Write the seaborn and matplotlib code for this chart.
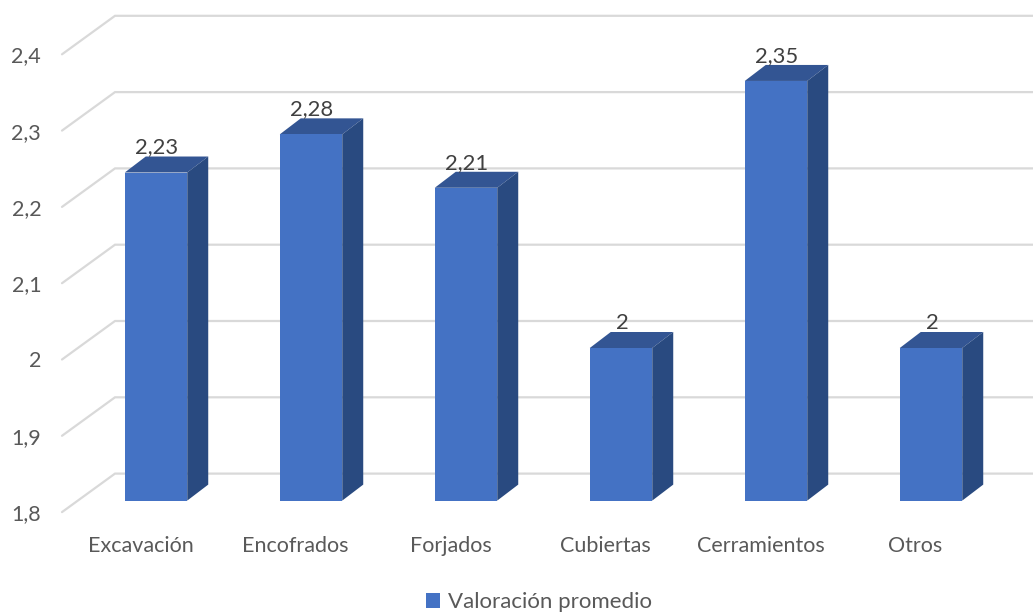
import numpy as np
import pandas as pd
import matplotlib
matplotlib.use("Agg")
import matplotlib.pyplot as plt
from matplotlib.patches import Polygon, Patch
from matplotlib.transforms import ScaledTranslation
import seaborn as sns

categories = ["Excavación", "Encofrados", "Forjados", "Cubiertas", "Cerramientos", "Otros"]
values = [2.23, 2.28, 2.21, 2.0, 2.35, 2.0]
value_labels = ["2,23", "2,28", "2,21", "2", "2,35", "2"]
y_ticks = [1.8, 1.9, 2.0, 2.1, 2.2, 2.3, 2.4]
y_tick_labels = ["1,8", "1,9", "2", "2,1", "2,2", "2,3", "2,4"]
series_name = "Valoración promedio"

W, H = 1033, 613
sns.set_theme(style="white")
plt.rcParams["font.family"] = ["Lato", "DejaVu Sans"]
TXT = "#595959"
FS = 15.5

fig = plt.figure(figsize=(W / 100, H / 100), dpi=100)
L, R, T, B = 78.5, 1008.5, 42.8, 500.6
ax = fig.add_axes([L / W, 1 - B / H, (R - L) / W, (B - T) / H])
df = pd.DataFrame({"cat": categories, "val": values})
hw = 0.2
sns.barplot(data=df, x="cat", y="val", color="#4472C4", saturation=1, width=2 * hw + 0.003,
            edgecolor="none", linewidth=0, ax=ax, zorder=3)
ax.set_xlim(-0.5, 5.5)
ax.set_ylim(1.8, 2.4)
ax.set_xlabel("")
ax.set_ylabel("")
sns.despine(ax=ax, left=True, bottom=True)

ux = 6 / (R - L)      # category units per pixel
uy = 0.6 / (B - T)    # value units per pixel
depth_x, depth_y = 21 * ux, 16 * uy

# floor/wall grid
for v in y_ticks:
    xs = [-0.5 - 16.5 * ux, -0.5 + 36.5 * ux, 5.5 + 24.5 * ux]
    ys = [v - 11.5 * uy, v + 27 * uy, v + 27 * uy]
    ax.plot(xs, ys, color="#D9D9D9", lw=1.6, clip_on=False, zorder=1, solid_joinstyle="miter")

# 3D faces of each bar
hw2 = hw + 0.0015
for i, v in enumerate(values):
    base = 1.8
    top = [(i - hw2, v), (i + hw2, v), (i + hw2 + depth_x, v + depth_y), (i - hw2 + depth_x, v + depth_y)]
    side = [(i + hw2, base), (i + hw2, v), (i + hw2 + depth_x, v + depth_y), (i + hw2 + depth_x, base + depth_y)]
    ax.add_patch(Polygon(top, closed=True, fc="#335593", ec="none", clip_on=False, zorder=2.9))
    ax.add_patch(Polygon(side, closed=True, fc="#294A80", ec="none", clip_on=False, zorder=2.9))
    ax.text(i + 1 * ux, v + 25 * uy, value_labels[i], ha="center", va="center",
            fontsize=FS + 0.3, color="#404040", zorder=5, clip_on=False)

# ticks
ax.set_yticks(y_ticks)
ax.set_yticklabels(y_tick_labels, fontsize=FS, color=TXT)
ax.tick_params(axis="both", length=0)
off_y = ScaledTranslation(-(78.5 - 42 - 4) / 100, -11.5 / 100, fig.dpi_scale_trans)
for lab in ax.get_yticklabels():
    lab.set_transform(lab.get_transform() + off_y)
ax.set_xticks(range(6))
ax.set_xticklabels(categories, fontsize=FS, color=TXT)
off_x = ScaledTranslation(-15.5 / 100, -30.5 / 100, fig.dpi_scale_trans)
for lab in ax.get_xticklabels():
    lab.set_transform(lab.get_transform() + off_x)

fig.legend(handles=[Patch(fc="#4472C4", ec="none", label=series_name)], loc="center",
           bbox_to_anchor=(539 / W, 1 - 602.5 / H), frameon=False, fontsize=16, labelcolor=TXT,
           handlelength=0.65, handleheight=0.65, handletextpad=0.35, borderpad=0)

fig.savefig("out.png", dpi=100)
